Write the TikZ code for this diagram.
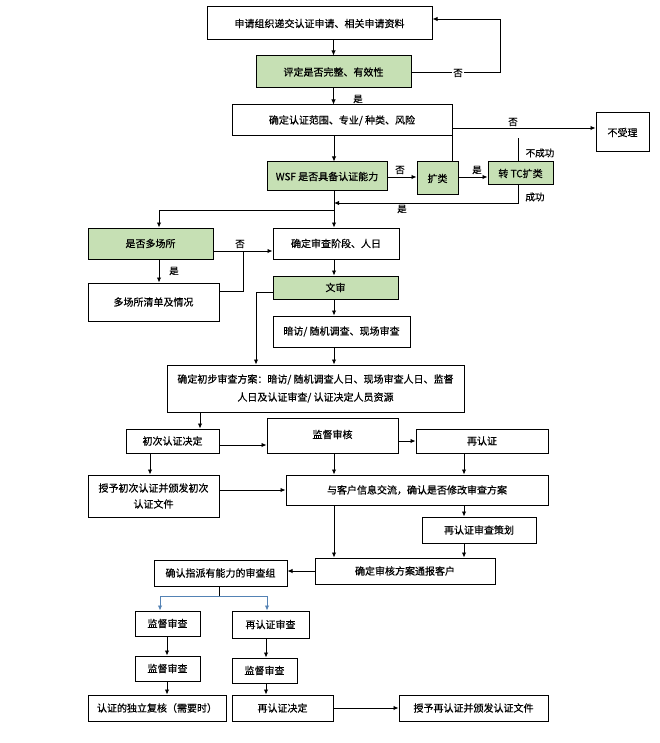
\documentclass[tikz,border=0pt]{standalone}
\usepackage{fontspec}
\setmainfont{Noto Sans CJK SC}[FakeBold=0.5]
\usetikzlibrary{arrows.meta}
\definecolor{gfill}{RGB}{198,224,180}
\definecolor{bluel}{RGB}{84,130,180}
\tikzset{
  boxst/.style={draw=black, line width=1pt, inner sep=0pt, font=\fontsize{10}{12}\selectfont, align=center},
  gbox/.style={fill=gfill},
  arr/.style={-{Latex[length=5pt,width=4.5pt]}, line width=0.9pt},
  ln/.style={line width=0.9pt},
  lab/.style={font=\fontsize{9.5}{11}\selectfont, inner sep=1pt}
}
\newcommand{\bx}[7][]{\node[boxst,#1,minimum width={#4-#2}, minimum height={#5-#3}] (#6) at ({(#2+#4)/2},{(#3+#5)/2}) {#7};}
\begin{document}
\begin{tikzpicture}[x=1pt,y=-1pt]
\useasboundingbox[fill=white] (0,0) rectangle (660,743);
% boxes
\bx{207}{7}{432}{40}{b1}{申请组织递交认证申请、相关申请资料}
\bx[gbox]{256}{56}{411}{88}{b2}{评定是否完整、有效性}
\bx{232}{105}{452}{136}{b3}{确定认证范围、专业/ 种类、风险}
\bx{596}{113}{649}{152}{nr}{不受理}
\bx[gbox]{267}{162}{387}{191}{wsf}{WSF 是否具备认证能力}
\bx[gbox]{417}{162}{458}{195}{kl}{扩类}
\bx[gbox]{488}{162}{553}{185}{tc}{转 TC扩类}
\bx[gbox]{88}{228}{213}{259}{ms}{是否多场所}
\bx{273}{228}{399}{259}{rv}{确定审查阶段、人日}
\bx{88}{283}{219}{321}{ml}{多场所清单及情况}
\bx[gbox]{273}{276}{398}{299}{ws}{文审}
\bx{273}{316}{410}{347}{af}{暗访/ 随机调查、现场审查}
\bx[font=\fontsize{10}{18}\selectfont]{167}{365}{464}{412}{pl}{确定初步审查方案：暗访/ 随机调查人日、现场审查人日、监督\\人日及认证审查/ 认证决定人员资源}
\bx{126}{429}{219}{453}{cj}{初次认证决定}
\bx[text depth=3pt]{267}{418}{398}{453}{jd}{监督审核}
\bx{416}{429}{548}{453}{zr}{再认证}
\bx[font=\fontsize{10}{16}\selectfont]{88}{475}{219}{517}{sy}{授予初次认证并颁发初次\\认证文件}
\bx{286}{475}{548}{505}{kh}{与客户信息交流，确认是否修改审查方案}
\bx{422}{517}{536}{543}{ch}{再认证审查策划}
\bx{315}{558}{495}{584}{tb}{确定审核方案通报客户}
\bx{154}{560}{287}{586}{zp}{确认指派有能力的审查组}
\bx{135}{611}{200}{636}{s1}{监督审查}
\bx{232}{611}{309}{638}{rs}{再认证审查}
\bx{135}{656}{200}{681}{s2}{监督审查}
\bx{232}{658}{297}{683}{s3}{监督审查}
\bx{88}{695}{226}{721}{fh}{认证的独立复核（需要时）}
\bx{232}{695}{333}{721}{zj}{再认证决定}
\bx{399}{695}{548}{721}{sz}{授予再认证并颁发认证文件}
% coordinates
\coordinate (mx) at (334,0);
\coordinate (f1) at (500,72);
\coordinate (f2) at (500,19);
\coordinate (n1) at (452,128);
\coordinate (t1) at (518,138);
\coordinate (y177) at (0,177);
\coordinate (s203) at (518,203);
\coordinate (br) at (334,210);
\coordinate (br2) at (159,210);
\coordinate (y251) at (0,251);
\coordinate (m1) at (243,291);
\coordinate (w1) at (256,292);
\coordinate (x200) at (200,0);
\coordinate (y445) at (0,445);
\coordinate (y441) at (0,441);
\coordinate (x150) at (150,0);
\coordinate (y490) at (0,490);
\coordinate (x464) at (464,0);
\coordinate (y571) at (0,571);
\coordinate (z1) at (219,596);
\coordinate (bL) at (160,596);
\coordinate (bR) at (267,596);
\coordinate (x167) at (167,0);
\coordinate (x266) at (266,0);
% connectors
\draw[arr] (b2.north |- b1.south) -- (b2.north);
\draw[arr] (b2.east |- f1) -- (f1) -- (f2) -- (b1.east |- f2);
\node[lab, fill=white] at (458,73) {否};
\draw[arr] (b2.south) -- (b2.south |- b3.north);
\node[lab] at (358,99) {是};
\draw[arr] (n1) -- (nr.west |- n1);
\node[lab] at (513,122) {否};
\draw[ln] (kl.north -| n1) -- (n1);
\draw[ln] (tc.north -| t1) -- (t1);
\node[lab] at (540,153) {不成功};
\draw[arr] (b3.south -| mx) -- (wsf.north -| mx);
\draw[arr] (wsf.east |- y177) -- (kl.west |- y177);
\node[lab] at (400,170) {否};
\draw[arr] (kl.east |- y177) -- (tc.west |- y177);
\node[lab] at (477,170) {是};
\draw[arr] (tc.south -| s203) -- (s203) -- (s203 -| mx);
\node[lab] at (535,197) {成功};
\node[lab] at (402,209) {是};
\draw[arr] (wsf.south -| mx) -- (rv.north -| mx);
\draw[arr] (br) -- (br2) -- (ms.north -| br2);
\draw[arr] (ms.east |- y251) -- (rv.west |- y251);
\node[lab] at (240,244) {否};
\draw[arr] (ms.south -| br2) -- (ml.north -| br2);
\node[lab] at (174,271) {是};
\draw[ln] (ml.east |- m1) -- (m1) -- (m1 |- y251);
\draw[arr] (rv.south -| mx) -- (ws.north -| mx);
\draw[arr] (ws.south -| mx) -- (af.north -| mx);
\draw[arr] (ws.west |- w1) -- (w1) -- (pl.north -| w1);
\draw[arr] (af.south -| mx) -- (pl.north -| mx);
\draw[arr] (pl.south -| x200) -- (cj.north -| x200);
\draw[arr] (cj.east |- y445) -- (jd.west |- y445);
\draw[arr] (jd.east |- y441) -- (zr.west |- y441);
\draw[arr] (cj.south -| x150) -- (sy.north -| x150);
\draw[arr] (sy.east |- y490) -- (kh.west |- y490);
\draw[arr] (jd.south -| mx) -- (kh.north -| mx);
\draw[arr] (zr.south -| x464) -- (kh.north -| x464);
\draw[arr] (kh.south -| mx) -- (tb.north -| mx);
\draw[arr] (kh.south -| x464) -- (ch.north -| x464);
\draw[arr] (ch.south -| x464) -- (tb.north -| x464);
\draw[arr] (tb.west |- y571) -- (zp.east |- y571);
\draw[ln] (zp.south -| z1) -- (z1);
\draw[ln, bluel] (bL) -- (bR);
\draw[arr, bluel] (bL) -- (s1.north -| bL);
\draw[arr, bluel] (bR) -- (rs.north -| bR);
\draw[arr] (s1.south -| x167) -- (s2.north -| x167);
\draw[arr] (rs.south -| x266) -- (s3.north -| x266);
\draw[arr] (s2.south -| x167) -- (fh.north -| x167);
\draw[arr] (s3.south -| x266) -- (zj.north -| x266);
\draw[arr] (zj.east) -- (sz.west);
\end{tikzpicture}
\end{document}
